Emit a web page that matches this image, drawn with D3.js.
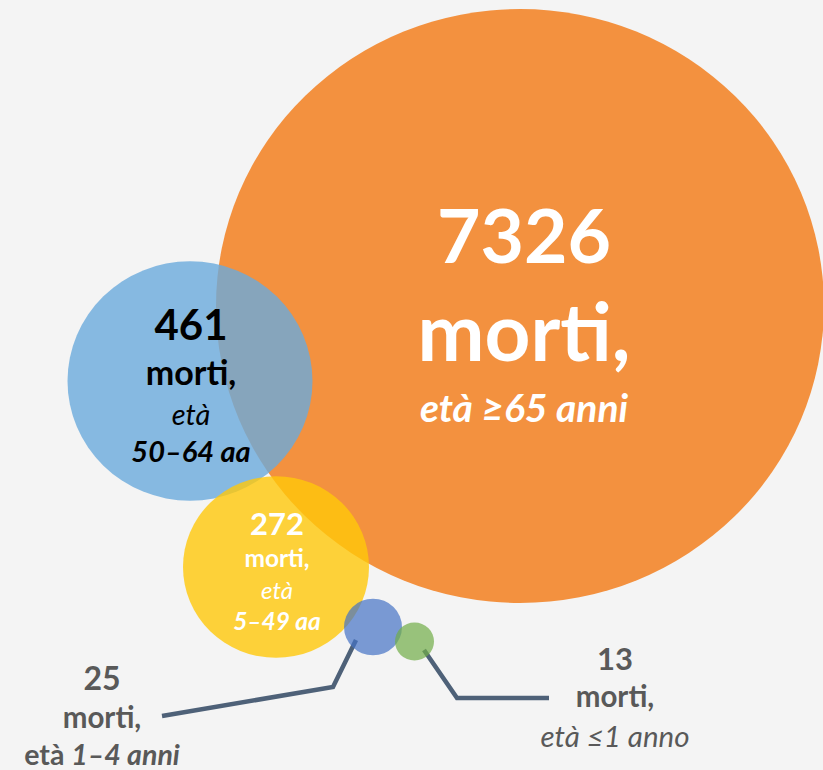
<!DOCTYPE html>
<html>
<head>
<meta charset="utf-8">
<script src="https://cdn.jsdelivr.net/npm/d3@7"></script>
<style>
  html, body { margin: 0; padding: 0; background: #f4f4f4; }
  svg { display: block; }
  text { font-family: Lato, "Open Sans", sans-serif; }
</style>
</head>
<body>
<svg id="chart" width="823" height="770"></svg>
<script>
// ---- data ----
const categories = ["età ≥65 anni", "età 50–64 aa", "età 5–49 aa", "età 1–4 anni", "età ≤1 anno"];
const deaths = [7326, 461, 272, 25, 13];
const unitLabel = "morti,";
const colors = ["#f3913f", "rgb(106,170,220)", "#ffc80a", "#4472c4", "#70ad47"];
const opacities = [1, 0.8, 0.8, 0.7, 0.7];

// ---- layout ----
const W = 823, H = 770;
const svg = d3.select("#chart");
svg.append("rect").attr("width", W).attr("height", H).attr("fill", "#f4f4f4");

// bubble size scale (piecewise, as in the original drawing)
const rScale = d3.scaleLinear()
  .domain([13, 25, 272, 461, 7326])
  .range([19.5, 29, 93, 122.5, 304]);
const squash = 0.977;

// bubble centres
const xPos = d3.scaleOrdinal().domain(categories).range([520, 190, 276, 373, 414.5]);
const yPos = d3.scaleOrdinal().domain(categories).range([306, 381, 567, 627, 641.5]);

const nodes = categories.map((c, i) => ({ cat: c, v: deaths[i], col: colors[i], op: opacities[i] }));

// leader lines (drawn under the small bubbles)
const line = d3.line();
const leaderColor = "#4e6178";
svg.append("path")
  .attr("d", line([[356, 640], [333, 687], [162, 716]]))
  .attr("fill", "none").attr("stroke", leaderColor).attr("stroke-width", 4.5);
svg.append("path")
  .attr("d", line([[424, 650], [457, 698], [549, 698]]))
  .attr("fill", "none").attr("stroke", leaderColor).attr("stroke-width", 4.5);

svg.append("g").selectAll("ellipse")
  .data(nodes)
  .join("ellipse")
  .attr("cx", d => xPos(d.cat))
  .attr("cy", d => yPos(d.cat))
  .attr("rx", d => rScale(d.v))
  .attr("ry", d => rScale(d.v) * squash)
  .attr("fill", d => d.col)
  .attr("fill-opacity", d => d.op);

// ---- labels ----
function label(x, lines) {
  lines.forEach(l => {
    const t = svg.append("text")
      .attr("x", x).attr("y", l.y)
      .attr("text-anchor", "middle")
      .attr("fill", l.fill)
      .attr("font-size", l.size)
      .attr("font-weight", l.bold ? 700 : 400)
      .attr("font-style", l.italic ? "italic" : "normal");
    if (l.parts) {
      l.parts.forEach(p => t.append("tspan").text(p.t)
        .attr("font-style", p.italic ? "italic" : "normal"));
    } else {
      t.text(l.text);
    }
  });
}

// 7326
label(524, [
  { text: String(deaths[0]), y: 263, size: 75, bold: true, fill: "#fff" },
  { text: unitLabel, y: 361, size: 80, bold: true, fill: "#fff" },
  { text: categories[0], y: 422, size: 39, bold: true, italic: true, fill: "#fff" }
]);
// 461
label(191, [
  { text: String(deaths[1]), y: 340, size: 42, bold: true, fill: "#000" },
  { text: unitLabel, y: 385, size: 34, bold: true, fill: "#000" },
  { text: "età", y: 425, size: 29, italic: true, fill: "#000" },
  { text: categories[1].replace("età ", ""), y: 462, size: 29, bold: true, italic: true, fill: "#000" }
]);
// 272
label(277, [
  { text: String(deaths[2]), y: 535, size: 31, bold: true, fill: "#fff" },
  { text: unitLabel, y: 567, size: 24.5, bold: true, fill: "#fff" },
  { text: "età", y: 599, size: 24, italic: true, fill: "#fff" },
  { text: categories[2].replace("età ", ""), y: 630, size: 24.5, bold: true, italic: true, fill: "#fff" }
]);
// 25
label(102, [
  { text: String(deaths[3]), y: 690, size: 32, bold: true, fill: "#595959" },
  { text: unitLabel, y: 728, size: 29.5, bold: true, fill: "#595959" },
  { parts: [{ t: "età " }, { t: categories[3].replace("età ", ""), italic: true }], y: 765, size: 28.5, bold: true, fill: "#595959" }
]);
// 13
label(615, [
  { text: String(deaths[4]), y: 670, size: 31, bold: true, fill: "#595959" },
  { text: unitLabel, y: 707, size: 29.5, bold: true, fill: "#595959" },
  { text: categories[4], y: 747, size: 29.5, italic: true, fill: "#595959" }
]);
</script>
</body>
</html>
